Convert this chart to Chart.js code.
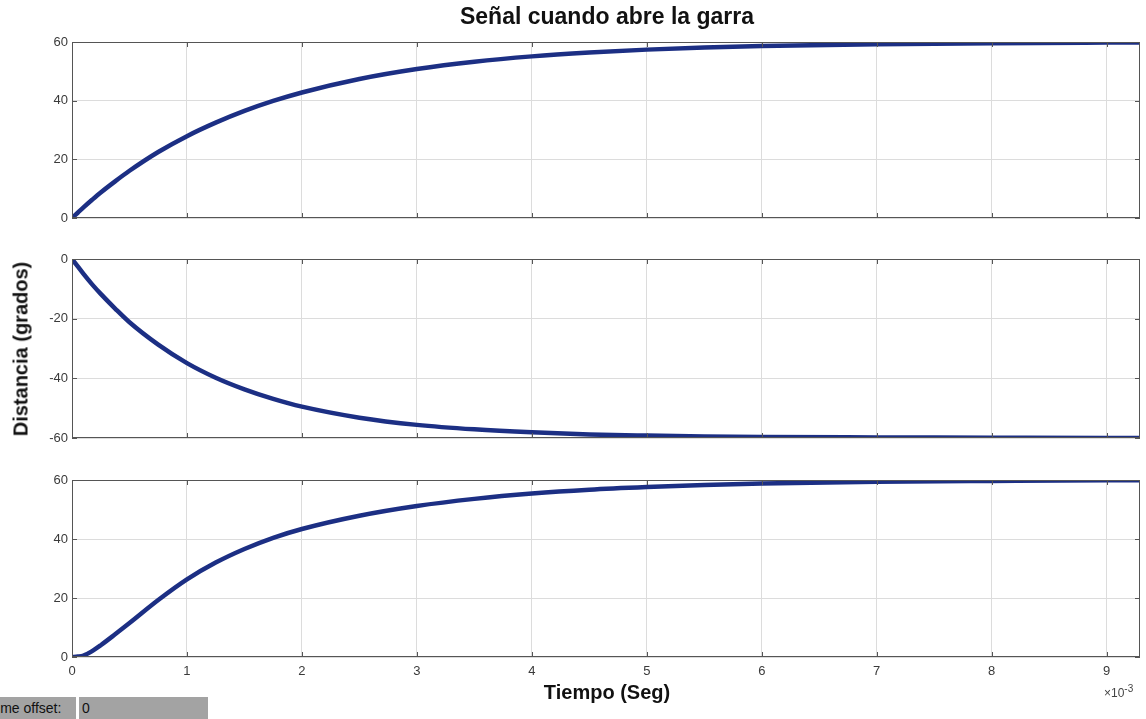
<!DOCTYPE html>
<html>
<head>
<meta charset="utf-8">
<script src="https://cdn.jsdelivr.net/npm/chart.js@4.4.1/dist/chart.umd.min.js"></script>
<style>
  body { margin: 0; background: #fff; font-family: "Liberation Sans", Arial, sans-serif; }
  #wrap { position: relative; width: 1146px; height: 719px; overflow: hidden; background: #fff; }
  .panel { position: absolute; left: 0; width: 1146px; }
  .txt { position: absolute; color: #111; white-space: nowrap; }
  #title { top: 3px; left: 0; width: 1214px; text-align: center; font-weight: bold; font-size: 23px; }
  #ylab { left: 21px; top: 349px; font-weight: bold; font-size: 20px; transform: translate(-50%, -50%) rotate(-90deg); }
  #xlab { top: 681px; left: 0; width: 1214px; text-align: center; font-weight: bold; font-size: 20px; }
  #expo { top: 683px; left: 1104px; font-size: 12px; color: #444; }
  #expo sup { font-size: 10px; }
  #offLabel { position: absolute; left: 0; top: 697px; width: 76px; height: 22px; overflow: hidden; background: #a3a3a3; }
  #offLabel span { position: absolute; left: -11px; top: 3px; font-size: 14px; color: #111; }
  #offVal { position: absolute; left: 79px; top: 697px; width: 129px; height: 22px; background: #a3a3a3; font-size: 14px; color: #111; }
  #offVal span { position: absolute; left: 3px; top: 3px; }
</style>
</head>
<body>
<div id="wrap">
  <div class="panel" style="top:0;height:240px"><canvas id="c1"></canvas></div>
  <div class="panel" style="top:240px;height:220px"><canvas id="c2"></canvas></div>
  <div class="panel" style="top:460px;height:259px"><canvas id="c3"></canvas></div>
  <div class="txt" id="title">Señal cuando abre la garra</div>
  <div class="txt" id="ylab">Distancia (grados)</div>
  <div class="txt" id="xlab">Tiempo (Seg)</div>
  <div class="txt" id="expo">×10<sup>-3</sup></div>
  <div id="offLabel"><span>Time offset:</span></div>
  <div id="offVal"><span>0</span></div>
</div>
<script>
// tiempo en ms (eje x ×10^-3)
const tiempo = [0, 0.05, 0.1, 0.175, 0.25, 0.375, 0.5, 0.75, 1, 1.25, 1.5, 1.75, 2, 2.5, 3, 3.5, 4, 4.5, 5, 5.5, 6, 7, 8, 9, 9.29];
const senal1 = [0, 1.8, 3.6, 6.2, 8.7, 12.5, 16.1, 22.5, 27.9, 32.5, 36.5, 39.9, 42.8, 47.4, 50.8, 53.3, 55.1, 56.4, 57.4, 58.1, 58.6, 59.2, 59.6, 59.8, 59.85];
const senal2 = [0, -2.5, -5.0, -8.5, -11.7, -16.6, -21.2, -28.7, -34.9, -39.8, -43.7, -46.9, -49.5, -53.2, -55.6, -57.1, -58.1, -58.8, -59.2, -59.5, -59.7, -59.8, -59.9, -60, -60];
const senal3 = [0, 0.15, 0.5, 2.0, 4.0, 7.7, 11.5, 19.3, 26.3, 32.0, 36.6, 40.4, 43.4, 47.9, 51.2, 53.6, 55.4, 56.7, 57.6, 58.3, 58.8, 59.4, 59.7, 59.9, 59.9];
const xTicks = [0, 1, 2, 3, 4, 5, 6, 7, 8, 9];
const yTicksPos = [0, 20, 40, 60];
const yTicksNeg = [-60, -40, -20, 0];

const LINE = '#1c2f84';
const BOX = '#555';
const GRID = '#dcdcdc';

// caja tipo MATLAB con marcas hacia dentro
const boxPlugin = {
    id: 'box',
    afterDraw(chart) {
        const { ctx, chartArea: a, scales } = chart;
        ctx.save();
        ctx.strokeStyle = BOX;
        ctx.lineWidth = 1;
        ctx.strokeRect(a.left + 0.5, a.top + 0.5, a.right - a.left - 1, a.bottom - a.top - 1);
        ctx.beginPath();
        scales.x.ticks.forEach(t => {
            const px = Math.round(scales.x.getPixelForValue(t.value)) + 0.5;
            ctx.moveTo(px, a.bottom); ctx.lineTo(px, a.bottom - 5);
            ctx.moveTo(px, a.top); ctx.lineTo(px, a.top + 5);
        });
        scales.y.ticks.forEach(t => {
            const py = Math.round(scales.y.getPixelForValue(t.value)) + 0.5;
            ctx.moveTo(a.left, py); ctx.lineTo(a.left + 5, py);
            ctx.moveTo(a.right, py); ctx.lineTo(a.right - 5, py);
        });
        ctx.stroke();
        ctx.restore();
    }
};

function makeChart(id, values, yMin, yMax, yTicks, padTop, padBottom, showX) {
    const pts = tiempo.map((t, i) => ({ x: t, y: values[i] }));
    return new Chart(document.getElementById(id), {
        type: 'line',
        data: {
            datasets: [{
                data: pts,
                borderColor: LINE,
                borderWidth: 4.5,
                pointRadius: 0,
                cubicInterpolationMode: 'monotone',
                fill: false
            }]
        },
        options: {
            responsive: true,
            maintainAspectRatio: false,
            animation: false,
            layout: { padding: { left: 0, right: 6, top: padTop, bottom: padBottom } },
            plugins: { legend: { display: false }, tooltip: { enabled: false } },
            scales: {
                x: {
                    type: 'linear',
                    min: 0,
                    max: 9.29,
                    afterBuildTicks: s => { s.ticks = xTicks.map(v => ({ value: v })); },
                    afterFit: s => { s.height = showX ? 30 : 0; },
                    grid: { color: GRID, drawTicks: false },
                    border: { display: false },
                    ticks: {
                        display: showX,
                        color: '#3a3a3a',
                        padding: 7,
                        font: { family: 'Liberation Sans', size: 13 },
                        maxRotation: 0
                    }
                },
                y: {
                    min: yMin,
                    max: yMax,
                    afterBuildTicks: s => { s.ticks = yTicks.map(v => ({ value: v })); },
                    afterFit: s => { s.width = 72; },
                    grid: { color: GRID, drawTicks: false },
                    border: { display: false },
                    ticks: {
                        color: '#3a3a3a',
                        padding: 4,
                        font: { family: 'Liberation Sans', size: 13 }
                    }
                }
            }
        },
        plugins: [boxPlugin]
    });
}

makeChart('c1', senal1, 0, 60, yTicksPos, 42, 22, false);
makeChart('c2', senal2, -60, 0, yTicksNeg, 19, 22, false);
makeChart('c3', senal3, 0, 60, yTicksPos, 20, 32, true);
</script>
</body>
</html>
